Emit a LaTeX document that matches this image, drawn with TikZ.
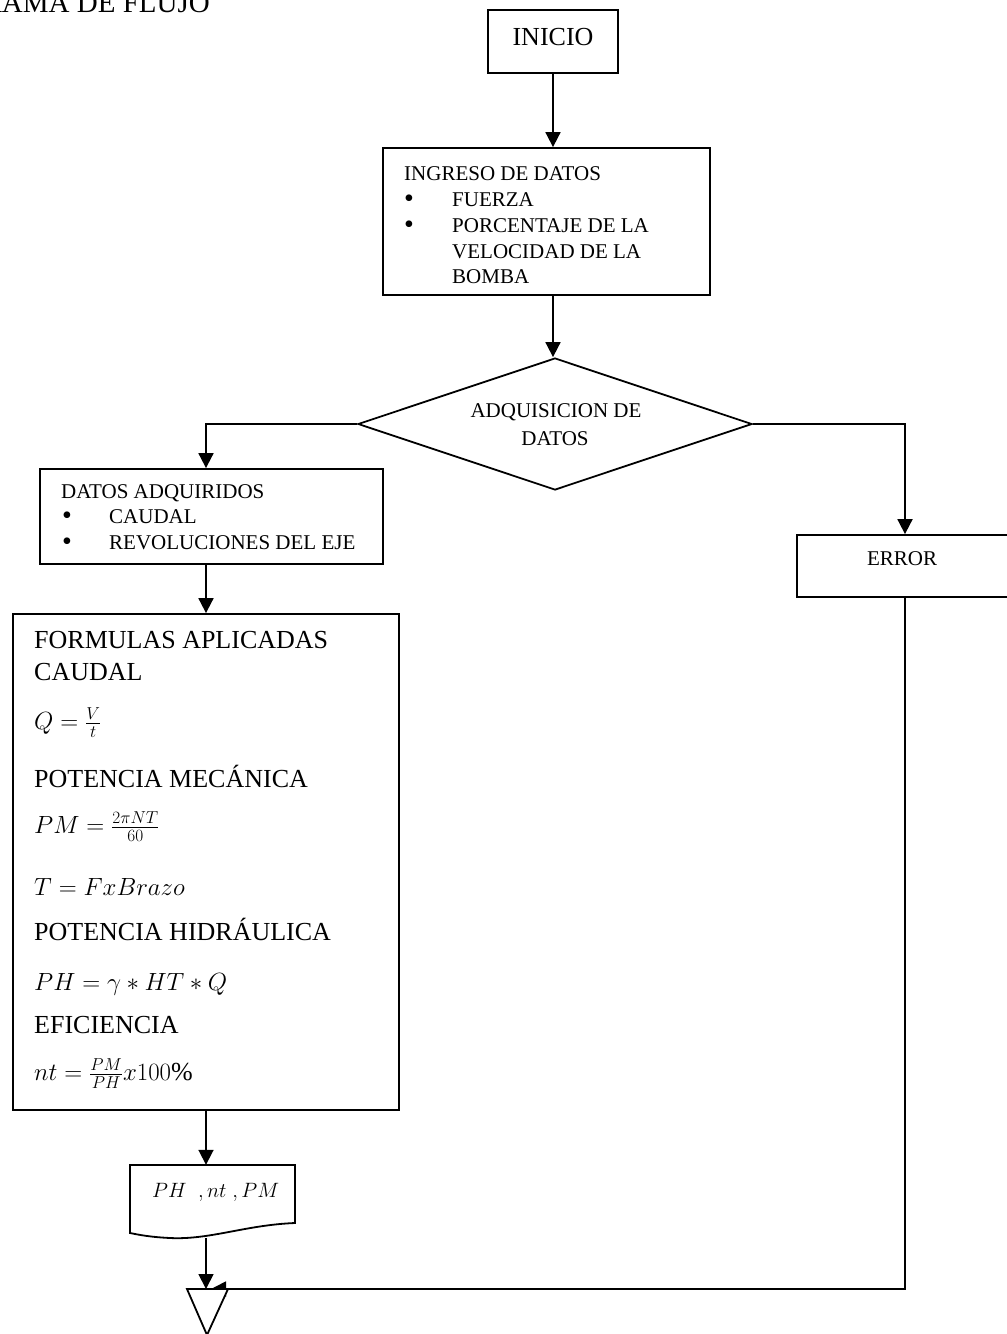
\documentclass[tikz,border=0pt]{standalone}
\usepackage{fontspec}
\setmainfont{Liberation Serif}
\usetikzlibrary{arrows.meta,shapes.geometric}
\newcommand\fsz[1]{\fontsize{#1}{#1}\selectfont}
\newcommand\bigbul{{\fsz{28}\textbullet}}
\begin{document}
\begin{tikzpicture}[x=1pt,y=-1pt,
  box/.style={draw,line width=1.8pt,inner sep=0pt},
  ghost/.style={inner sep=0pt},
  txt/.style={inner sep=0pt,anchor=base west},
  ctxt/.style={inner sep=0pt,anchor=base},
  arr/.style={line width=1.8pt,-{Triangle[length=15pt,width=15pt]}},
  ln/.style={line width=1.8pt}]
\useasboundingbox (0,0) rectangle (1007,1334);

% title (clipped at the page edge, as in the reference)
\node[inner sep=0pt,anchor=base east,font=\fsz{29}] (title) at (210,12) {DIAGRAMA DE FLUJO};

% INICIO
\node[box,minimum width=130pt,minimum height=63pt] (inicio) at (553,41.5) {};
\node[ctxt,font=\fsz{26}] (tinicio) at (553,45) {INICIO};

% INGRESO DE DATOS
\node[box,minimum width=327pt,minimum height=147pt] (ingreso) at (546.5,221.5) {};
\begin{scope}[font=\fsz{21}]
\node[txt] (ing0) at (404,180) {INGRESO DE DATOS};
\node[ctxt] (ingb1) at (409,207) {\bigbul};
\node[txt] (ing1) at (452,206) {FUERZA};
\node[ctxt] (ingb2) at (409,233) {\bigbul};
\node[txt] (ing2) at (452,232) {PORCENTAJE DE LA};
\node[txt] (ing3) at (452,258) {VELOCIDAD DE LA};
\node[txt] (ing4) at (452,283) {BOMBA};
\end{scope}

% decision
\node[draw,diamond,line width=1.8pt,inner sep=0pt,minimum width=394pt,minimum height=132pt] (dec) at (555,424) {};
\node[ctxt,font=\fsz{21}] (dec1) at (556,417) {ADQUISICION DE};
\node[ctxt,font=\fsz{21}] (dec2) at (555,445) {DATOS};

% DATOS ADQUIRIDOS
\node[box,minimum width=343pt,minimum height=95pt] (datos) at (211.5,516.5) {};
\begin{scope}[font=\fsz{21}]
\node[txt] (dat0) at (61,498) {DATOS ADQUIRIDOS};
\node[ctxt] (datb1) at (67,524) {\bigbul};
\node[txt] (dat1) at (109,523) {CAUDAL};
\node[ctxt] (datb2) at (67,550) {\bigbul};
\node[txt] (dat2) at (109,549) {REVOLUCIONES DEL EJE};
\end{scope}

% ERROR
\node[box,minimum width=216pt,minimum height=62pt] (error) at (905,566) {};
\node[ctxt,font=\fsz{21}] (terror) at (902,565) {ERROR};

% FORMULAS
\node[box,minimum width=386pt,minimum height=496pt] (form) at (206,862) {};
\begin{scope}[font=\fsz{26}]
\node[txt] (f1) at (34,648) {FORMULAS APLICADAS};
\node[txt] (f2) at (34,680) {CAUDAL};
\node[txt] (f3) at (34,729) {$Q=\frac{V}{t}$};
\node[txt] (f4) at (34,787) {POTENCIA MECÁNICA};
\node[txt] (f5) at (34,833) {$PM=\frac{2\pi NT}{60}$};
\node[txt] (f6) at (34,895) {$T=FxBrazo$};
\node[txt] (f7) at (34,940) {POTENCIA HIDRÁULICA};
\node[txt] (f8) at (34,990) {$PH=\gamma*HT*Q$};
\node[txt] (f9) at (34,1033) {EFICIENCIA};
\node[txt] (f10) at (34,1080) {$nt=\frac{PM}{PH}x100$\%};
\end{scope}

% document (output) shape
\node[ghost,minimum width=165pt,minimum height=73pt] (doc) at (212.5,1201.5) {};
\draw[ln] (130,1233) -- (130,1165) -- (295,1165) -- (295,1223)
  .. controls (245,1225) and (210,1240) .. (170,1238)
  .. controls (150,1237) and (140,1235) .. (130,1233) -- cycle;
\node[txt,font=\fsz{21}] (tdoc) at (152,1197) {$PH\;\;,nt\;,PM$};

% end connector
\coordinate (fin) at (206,1289);
\coordinate (finR) at (211,1289);

% connectors
\draw[arr] (inicio.south) -- (inicio.south |- ingreso.north);
\draw[arr] (inicio.south |- ingreso.south) -- (inicio.south |- dec.north);
\draw[arr] (dec.west) -| (form.north |- datos.north);
\draw[arr] (dec.east) -| (error.north);
\draw[arr] (form.north |- datos.south) -- (form.north);
\draw[arr] (form.south) -- (form.south |- doc.north);
\draw[arr] (error.south) |- (finR);

% terminator triangle
\draw[ln,fill=white] (187,1289) -- (228,1289) -- (207,1335) -- cycle;
\draw[arr] (form.south |- doc.south) -- (fin);
\end{tikzpicture}
\end{document}
